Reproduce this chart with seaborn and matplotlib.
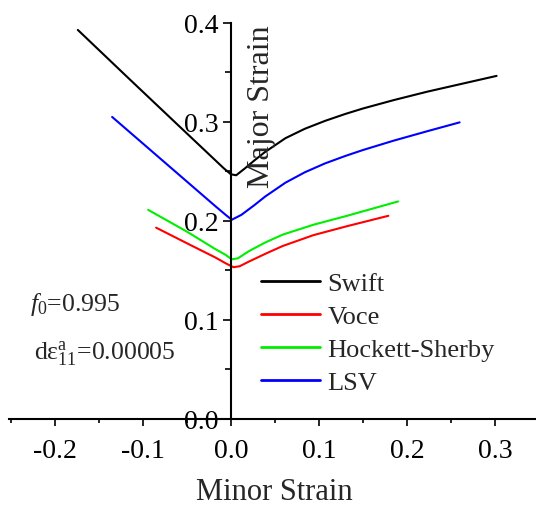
import matplotlib
matplotlib.use("Agg")
import matplotlib.pyplot as plt
import seaborn as sns
import pandas as pd
from matplotlib.ticker import MultipleLocator, FuncFormatter

# Forming limit curves (minor strain vs. major strain) for four hardening laws
models = ["Swift", "Voce", "Hockett-Sherby", "LSV"]
colors = ["black", "red", "#00ee00", "blue"]

swift_minor = [-0.174, -0.115, -0.058, -0.008, 0.000, 0.006, 0.016, 0.026, 0.038, 0.062,
               0.084, 0.107, 0.130, 0.150, 0.185, 0.223, 0.260, 0.302]
swift_major = [0.393, 0.343, 0.295, 0.253, 0.247, 0.246, 0.253, 0.2605, 0.269, 0.2835,
               0.293, 0.301, 0.308, 0.3135, 0.322, 0.3305, 0.338, 0.3465]

voce_minor = [-0.085, -0.045, -0.018, -0.006, 0.003, 0.010, 0.020, 0.039, 0.059,
              0.094, 0.132, 0.170, 0.179]
voce_major = [0.193, 0.175, 0.163, 0.157, 0.153, 0.154, 0.1585, 0.1665, 0.1745,
              0.1855, 0.1945, 0.203, 0.205]

hs_minor = [-0.094, -0.050, -0.018, -0.006, 0.001, 0.008, 0.020, 0.039, 0.059,
            0.094, 0.132, 0.170, 0.190]
hs_major = [0.211, 0.189, 0.1715, 0.1655, 0.161, 0.162, 0.169, 0.178, 0.186,
            0.196, 0.205, 0.2145, 0.2195]

lsv_minor = [-0.135, -0.070, -0.018, -0.006, 0.001, 0.012, 0.027, 0.039, 0.062,
             0.084, 0.107, 0.130, 0.150, 0.185, 0.223, 0.260]
lsv_major = [0.305, 0.255, 0.215, 0.206, 0.201, 0.206, 0.216, 0.2245, 0.2385,
             0.249, 0.258, 0.2655, 0.2715, 0.281, 0.2905, 0.2995]

x_ticks = [-0.2, -0.1, 0.0, 0.1, 0.2, 0.3]
y_ticks = [0.0, 0.1, 0.2, 0.3, 0.4]

frames = []
for name, xs, ys in zip(models,
                        [swift_minor, voce_minor, hs_minor, lsv_minor],
                        [swift_major, voce_major, hs_major, lsv_major]):
    frames.append(pd.DataFrame({"minor": xs, "major": ys, "model": name}))
df = pd.concat(frames, ignore_index=True)

sns.set_style("white")
plt.rcParams["font.family"] = ["Liberation Serif", "DejaVu Serif"]
plt.rcParams["mathtext.fontset"] = "custom"
plt.rcParams["mathtext.rm"] = "Liberation Serif"
plt.rcParams["mathtext.it"] = "Liberation Serif:italic"

W, H = 536, 506
fig = plt.figure(figsize=(W / 100, H / 100), dpi=100)
x0, x1 = 9.2, 536.0
y_bot, y_top = 419.5, 24.0
ax = fig.add_axes([x0 / W, (H - y_bot) / H, (x1 - x0) / W, (y_bot - y_top) / H])
ax.patch.set_alpha(0)

sns.lineplot(data=df, x="minor", y="major", hue="model", hue_order=models,
             palette=dict(zip(models, colors)), estimator=None, sort=False,
             linewidth=1.5, ax=ax)
for line in ax.get_lines():
    line.set_solid_joinstyle("round")

ax.set_xlim(-0.252, (x1 - 230.8) / 880)
ax.set_ylim(0, 0.4)

for s in ["top", "right"]:
    ax.spines[s].set_visible(False)
ax.spines["left"].set_position(("data", 0))
ax.spines["bottom"].set_position(("data", 0))
for s in ["left", "bottom"]:
    ax.spines[s].set_linewidth(1.5)
    ax.spines[s].set_color("black")

ax.set_xticks(x_ticks)
ax.set_yticks(y_ticks)
ax.xaxis.set_minor_locator(MultipleLocator(0.05))
ax.yaxis.set_minor_locator(MultipleLocator(0.05))
ax.xaxis.set_major_formatter(FuncFormatter(lambda v, p: f"{v:.1f}"))
ax.yaxis.set_major_formatter(FuncFormatter(lambda v, p: f"{v:.1f}"))
ax.tick_params(axis="both", which="both", direction="out", width=1.2, color="black",
               bottom=True, left=True, labelsize=20, labelcolor="black")
ax.tick_params(axis="x", which="major", length=5, pad=9)
ax.tick_params(axis="x", which="minor", length=3)
ax.tick_params(axis="y", which="major", length=6, pad=3)
ax.tick_params(axis="y", which="minor", length=4)
ax.grid(False)

ax.set_xlabel("")
ax.set_ylabel("")
fig.text(262 / W, 1 - 107 / H, "Major Strain", rotation=90, ha="center", va="center",
         fontsize=23)
fig.text(274.6 / W, (H - 500) / H, "Minor Strain", ha="center", va="baseline", fontsize=22)

fig.text(30 / W, (H - 311) / H, r"$\mathit{f}_{\mathit{0}}$=0.995", ha="left",
         va="baseline", fontsize=18.5)
fig.text(34 / W, (H - 359) / H, "d$\\mathrm{\u03b5}^{\\mathrm{a}}_{\\mathrm{11}}$=0.00005",
         ha="left", va="baseline", fontsize=18.5)

leg = ax.legend(loc="upper left", bbox_to_anchor=(260.5 / W, 1 - 273 / H),
                bbox_transform=fig.transFigure, frameon=False, fontsize=19,
                handlelength=2.27, handletextpad=0.27, labelspacing=0.36,
                borderpad=0, borderaxespad=0, title=None)
for line in leg.get_lines():
    line.set_linewidth(2)

fig.savefig("out.png", dpi=100)
